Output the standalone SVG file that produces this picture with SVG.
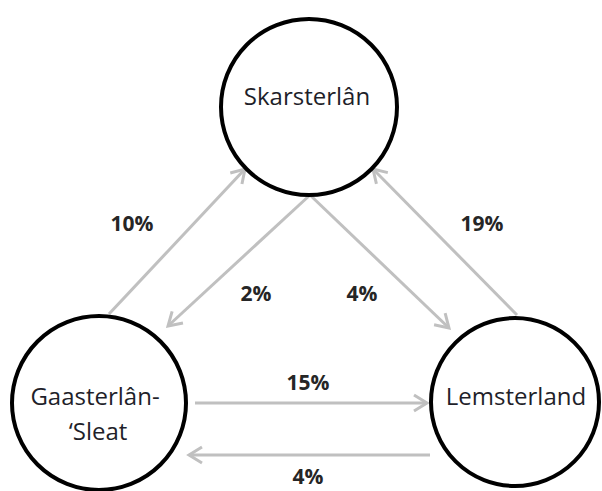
<svg xmlns="http://www.w3.org/2000/svg" width="602" height="491" viewBox="0 0 602 491">
<defs>
<style>
.node circle{fill:#fff;stroke:#000;stroke-width:4}
.name{font-family:"Open Sans","Noto Sans",sans-serif;font-size:24px;fill:#1f1f2a;text-anchor:middle}
.edge{stroke:#c0c0c0;stroke-width:3;fill:none;marker-end:url(#ah)}
.lbl{font-family:"Open Sans","Noto Sans",sans-serif;font-size:21px;font-weight:bold;fill:#262626;text-anchor:middle}
</style>
<marker id="ah" markerUnits="userSpaceOnUse" viewBox="0 0 20 20" markerWidth="20" markerHeight="20" refX="17" refY="10" orient="auto">
<path d="M4,2 L17,10 L4,18" fill="none" stroke="#c0c0c0" stroke-width="3"/>
</marker>
</defs>
<rect width="602" height="491" fill="#fff"/>
<g id="connectors">
<line class="edge" x1="109" y1="314" x2="245" y2="169"/>
<line class="edge" x1="310" y1="195" x2="168" y2="326"/>
<line class="edge" x1="310" y1="195" x2="449" y2="328"/>
<line class="edge" x1="517" y1="315" x2="373" y2="169"/>
<line class="edge" x1="195" y1="403" x2="427" y2="403"/>
<line class="edge" x1="430" y1="455" x2="189" y2="455"/>
</g>
<g id="n-skarsterlan" class="node">
<circle cx="309" cy="107" r="88"/>
<text class="name" x="307" y="105">Skarsterlân</text>
</g>
<g id="n-gaasterlan" class="node">
<circle cx="99" cy="403" r="87"/>
<text class="name" x="95" y="405">Gaasterlân-</text>
<text class="name" x="98" y="440">‘Sleat</text>
</g>
<g id="n-lemsterland" class="node">
<circle cx="515" cy="402" r="84"/>
<text class="name" x="516" y="405">Lemsterland</text>
</g>
<g id="labels">
<text class="lbl" x="132" y="231">10%</text>
<text class="lbl" x="256" y="301">2%</text>
<text class="lbl" x="362" y="301">4%</text>
<text class="lbl" x="482" y="231">19%</text>
<text class="lbl" x="308" y="390">15%</text>
<text class="lbl" x="308" y="484">4%</text>
</g>
</svg>
